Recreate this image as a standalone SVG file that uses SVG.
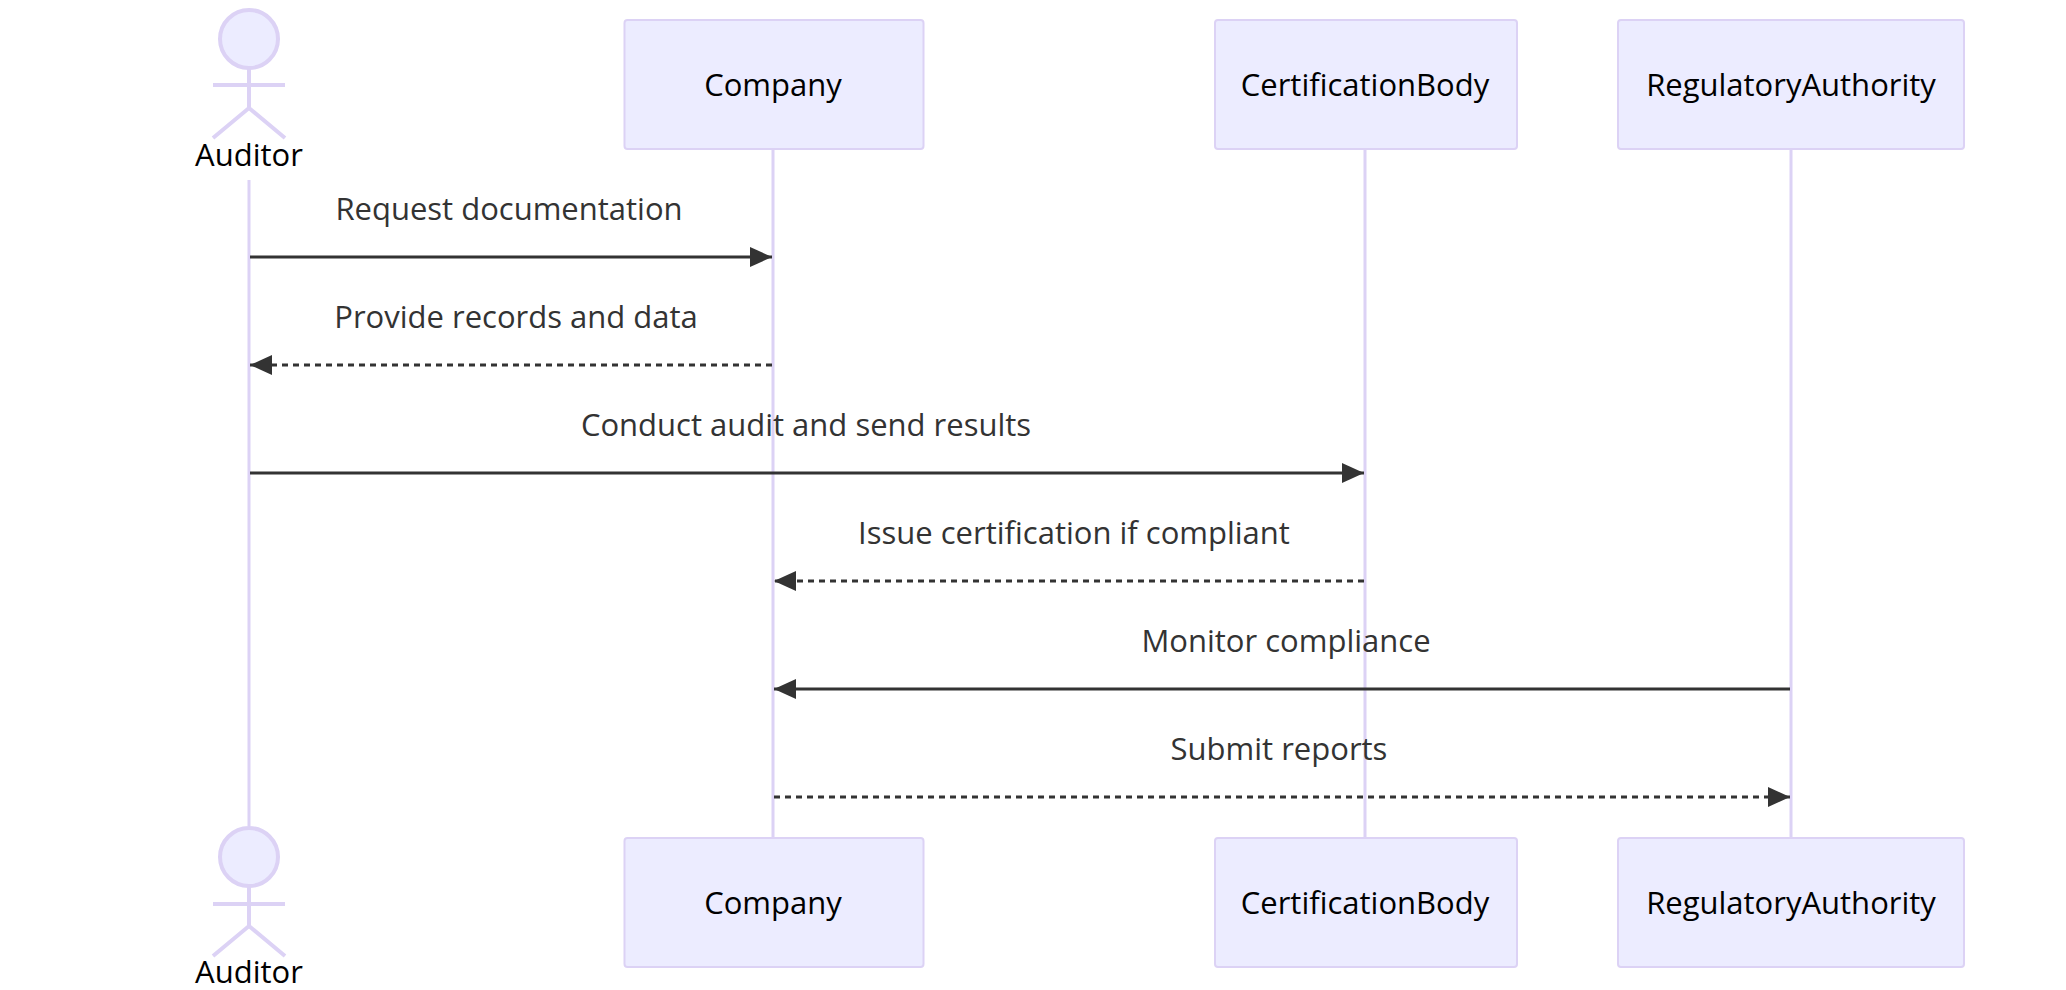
<svg xmlns="http://www.w3.org/2000/svg" width="2066" height="990" viewBox="0 0 2066 990">
<style>
.box{fill:#ECECFF;stroke:#DCD2F5;stroke-width:2}
.life{stroke:#DCD2F5;stroke-width:3}
.stick{fill:none;stroke:#DCD2F5;stroke-width:4}
.head{fill:#ECECFF;stroke:#DCD2F5;stroke-width:4}
.at{font-family:"Open Sans","Liberation Sans",sans-serif;font-size:31px;fill:#000;text-anchor:middle}
.ml{font-family:"Open Sans","Liberation Sans",sans-serif;font-size:31px;fill:#333;text-anchor:middle}
.msg{stroke:#333;stroke-width:3;fill:none}
.dash{stroke-dasharray:6 5}
</style>
<defs>
<marker id="ah" markerWidth="22" markerHeight="20" refX="22" refY="10" orient="auto" markerUnits="userSpaceOnUse">
<path d="M0,0 L22,10 L0,20 Z" fill="#333"/>
</marker>
</defs>
<g id="lifelines">
<line class="life" x1="249" y1="180" x2="249" y2="826"/>
<line class="life" x1="773" y1="149" x2="773" y2="838"/>
<line class="life" x1="1365" y1="149" x2="1365" y2="838"/>
<line class="life" x1="1791" y1="149" x2="1791" y2="838"/>
</g>
<g id="auditor-top">
<circle class="head" cx="249" cy="39" r="29"/>
<line class="stick" x1="249" y1="68" x2="249" y2="108"/>
<line class="stick" x1="213" y1="85" x2="285" y2="85"/>
<path class="stick" d="M213,138 L249,108 L285,138"/>
<text class="at" x="249" y="166">Auditor</text>
</g>
<g id="company-top"><rect class="box" x="624.5" y="20" width="299" height="129" rx="3"/><text class="at" x="773" y="96">Company</text></g>
<g id="cert-top"><rect class="box" x="1215" y="20" width="302" height="129" rx="3"/><text class="at" x="1365" y="96">CertificationBody</text></g>
<g id="reg-top"><rect class="box" x="1618" y="20" width="346" height="129" rx="3"/><text class="at" x="1791" y="96">RegulatoryAuthority</text></g>
<g id="auditor-bottom">
<circle class="head" cx="249" cy="857" r="29"/>
<line class="stick" x1="249" y1="886" x2="249" y2="926"/>
<line class="stick" x1="213" y1="904" x2="285" y2="904"/>
<path class="stick" d="M213,956 L249,926 L285,956"/>
<text class="at" x="249" y="983">Auditor</text>
</g>
<g id="company-bottom"><rect class="box" x="624.5" y="838" width="299" height="129" rx="3"/><text class="at" x="773" y="914">Company</text></g>
<g id="cert-bottom"><rect class="box" x="1215" y="838" width="302" height="129" rx="3"/><text class="at" x="1365" y="914">CertificationBody</text></g>
<g id="reg-bottom"><rect class="box" x="1618" y="838" width="346" height="129" rx="3"/><text class="at" x="1791" y="914">RegulatoryAuthority</text></g>
<g id="connectors">
<line class="msg" x1="250" y1="257" x2="772" y2="257" marker-end="url(#ah)"/>
<text class="ml" x="509" y="220">Request documentation</text>
<line class="msg dash" x1="772" y1="365" x2="250" y2="365" marker-end="url(#ah)"/>
<text class="ml" x="516" y="328">Provide records and data</text>
<line class="msg" x1="250" y1="473" x2="1364" y2="473" marker-end="url(#ah)"/>
<text class="ml" x="806" y="436">Conduct audit and send results</text>
<line class="msg dash" x1="1364" y1="581" x2="774" y2="581" marker-end="url(#ah)"/>
<text class="ml" x="1074" y="544">Issue certification if compliant</text>
<line class="msg" x1="1790" y1="689" x2="774" y2="689" marker-end="url(#ah)"/>
<text class="ml" x="1286" y="652">Monitor compliance</text>
<line class="msg dash" x1="774" y1="797" x2="1790" y2="797" marker-end="url(#ah)"/>
<text class="ml" x="1279" y="760">Submit reports</text>
</g>
</svg>
